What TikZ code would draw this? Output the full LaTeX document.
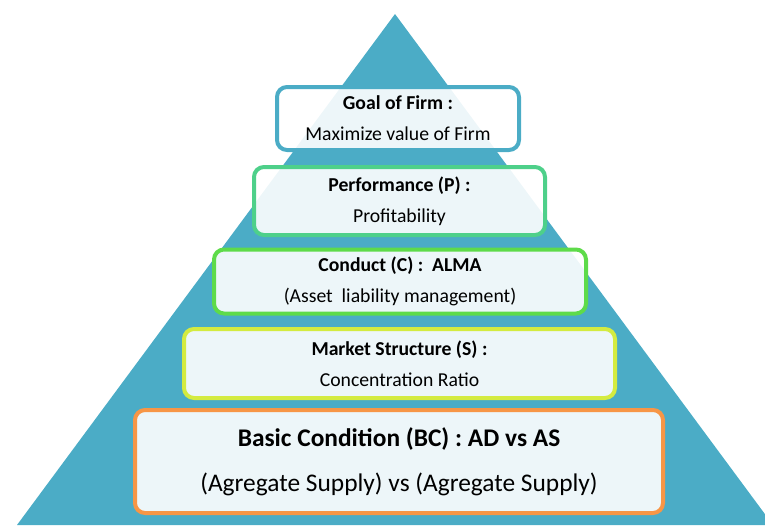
\documentclass[tikz,border=0pt]{standalone}
\usepackage{fontspec}
\setmainfont{Carlito}
\definecolor{tri}{RGB}{75,172,198}
\definecolor{cgoal}{RGB}{75,172,198}
\definecolor{cperf}{RGB}{78,208,138}
\definecolor{ccond}{RGB}{94,219,74}
\definecolor{cmark}{RGB}{212,235,64}
\definecolor{cbasic}{RGB}{247,150,70}
\tikzset{
  levelbox/.style={rectangle, rounded corners=10pt, line width=4pt,
    fill=white, fill opacity=0.9, text opacity=1, draw opacity=1,
    inner sep=0pt, align=center, text=black,
    font=\fontsize{19.7}{31}\selectfont},
  bigbox/.style={levelbox, font=\fontsize{25.4}{45}\selectfont}
}
\begin{document}
\begin{tikzpicture}[x=1pt,y=-1pt]
\useasboundingbox (0,0) rectangle (765,525);
\clip (0,0) rectangle (765,525);
\fill[tri] (395,14) -- (17,525) -- (773,525) -- cycle;
\node[levelbox, draw=cgoal, minimum width=242pt, minimum height=63pt] (goal) at (398,118.5)
  {\textbf{Goal of Firm :}\\Maximize value of Firm};
\node[levelbox, draw=cperf, minimum width=291pt, minimum height=68pt] (perf) at (399.5,201)
  {\textbf{Performance (P) :}\\Profitability};
\node[levelbox, draw=ccond, minimum width=372pt, minimum height=64pt] (cond) at (400,281.5)
  {\textbf{Conduct (C) :\ \ ALMA}\\(Asset\ \ liability management)};
\node[levelbox, draw=cmark, minimum width=431pt, minimum height=69pt] (mark) at (399.5,363.5)
  {\textbf{Market Structure (S) :}\\Concentration Ratio};
\node[bigbox, draw=cbasic, minimum width=528pt, minimum height=103pt] (basic) at (399,461.5)
  {\textbf{Basic Condition (BC) : AD vs AS}\\(Agregate Supply) vs (Agregate Supply)};
\end{tikzpicture}
\end{document}
